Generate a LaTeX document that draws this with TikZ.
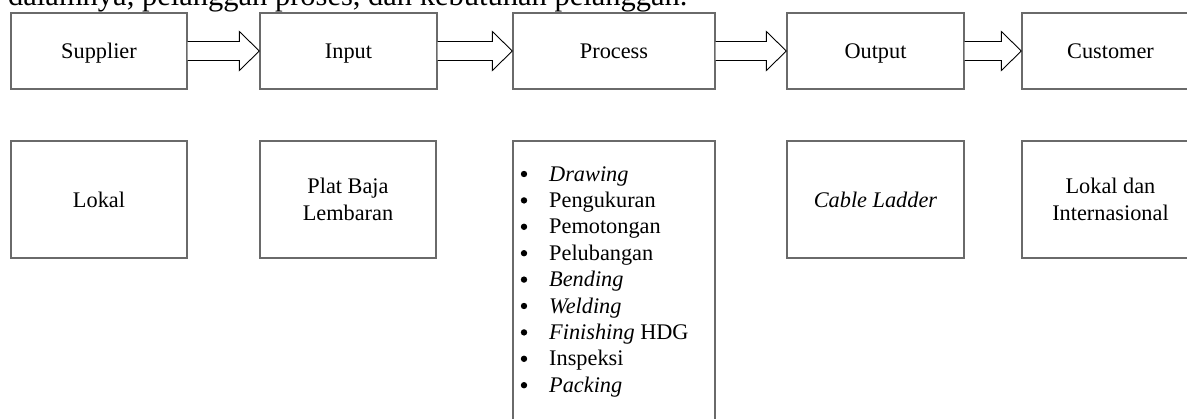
\documentclass[tikz,border=0pt]{standalone}
\usepackage{fontspec}
\setmainfont{Liberation Serif}
\usetikzlibrary{calc}
\definecolor{boxgray}{HTML}{6A6A6A}
\newcommand\blockarrow[2]{%
  \draw[flow] ([yshift=-9.5pt]#1.east) -- ([xshift=-20pt,yshift=-9.5pt]#2.west)
    -- ([xshift=-20pt,yshift=-19.5pt]#2.west) -- (#2.west)
    -- ([xshift=-20pt,yshift=19.5pt]#2.west) -- ([xshift=-20pt,yshift=9.5pt]#2.west)
    -- ([yshift=9.5pt]#1.east);}
\begin{document}
\begin{tikzpicture}[x=1pt,y=-1pt,
  box/.style={draw=boxgray,line width=1.3pt,fill=white,inner sep=0pt,
    font=\fontsize{22.3}{27}\selectfont,align=center},
  onel/.style={text height=15pt,text depth=0pt},
  flow/.style={draw=black,line width=0.9pt,fill=white,line join=miter},
  item/.style={anchor=base west,inner sep=0pt,font=\fontsize{22.3}{27}\selectfont},
  dot/.style={fill=black}]
\clip (0,0) rectangle (1187,418);
\fill[white] (0,0) rectangle (1187,418);
\node[anchor=base west,inner sep=0pt,font=\fontsize{30.5}{36}\selectfont] (para) at (8,5.5)
  {dalamnya, pelanggan proses, dan kebutuhan pelanggan.};
% top row
\node[box,onel,minimum width=176pt,minimum height=76pt] (sup) at (99,51) {Supplier};
\node[box,onel,minimum width=177pt,minimum height=76pt] (inp) at (348.5,51) {Input};
\node[box,onel,minimum width=202pt,minimum height=76pt] (proc) at (614,51) {Process};
\node[box,onel,minimum width=177pt,minimum height=76pt] (out) at (875.5,51) {Output};
\node[box,onel,minimum width=177pt,minimum height=76pt] (cust) at (1110.5,51) {Customer};
\blockarrow{sup}{inp}
\blockarrow{inp}{proc}
\blockarrow{proc}{out}
\blockarrow{out}{cust}
% bottom row
\node[box,onel,minimum width=176pt,minimum height=117pt] (lok) at (99,199.5) {Lokal};
\node[box,minimum width=176pt,minimum height=117pt] (plat) at (348,199.5) {Plat Baja\\Lembaran};
\node[box,minimum width=202pt,minimum height=309pt] (procd) at (614,295.5) {};
\node[box,onel,minimum width=177pt,minimum height=117pt] (cable) at (875.5,199.5) {\textit{Cable Ladder}};
\node[box,minimum width=177pt,minimum height=117pt] (intl) at (1110.5,199.5) {Lokal dan\\Internasional};
% list
\node[item] (l1) at (549,181) {\textit{Drawing}};
\node[item] (l2) at (549,207.4) {Pengukuran};
\node[item] (l3) at (549,233.8) {Pemotongan};
\node[item] (l4) at (549,260.2) {Pelubangan};
\node[item] (l5) at (549,286.6) {\textit{Bending}};
\node[item] (l6) at (549,313) {\textit{Welding}};
\node[item] (l7) at (549,339.4) {\textit{Finishing} HDG};
\node[item] (l8) at (549,365.8) {Inspeksi};
\node[item] (l9) at (549,392.2) {\textit{Packing}};
\foreach \i in {1,...,9}
  \fill[dot] ([xshift=-25pt,yshift=7pt]l\i.base west) circle (3.2pt);
\end{tikzpicture}
\end{document}
